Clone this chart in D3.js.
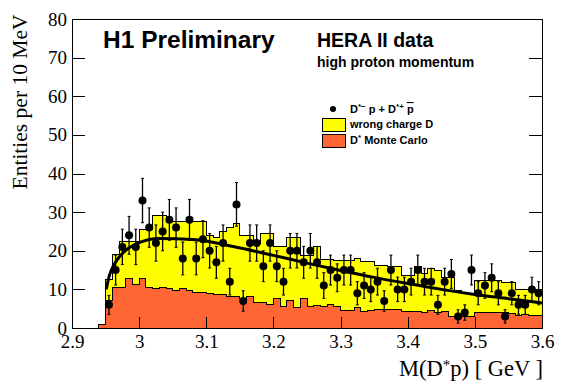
<!DOCTYPE html>
<html><head><meta charset="utf-8">
<script src="https://cdn.jsdelivr.net/npm/d3@7/dist/d3.min.js"></script>
<style>html,body{margin:0;padding:0;background:#fff;}svg{display:block;}</style>
</head><body>
<svg id="c" width="564" height="391"></svg>
<script>
// bin lower edges (GeV), 10 MeV bins from 2.94
const binStart = 2.94;
const binWidth = 0.01;
// wrong-charge D histogram (first bin = 2.94-2.95)
const wrongCharge = [0,
  12.6,19.0,22.5,22.5,22.5,25.5,25.5,29.0,29.0,27.5,
  27.5,27.5,28.5,27.5,27.5,24.0,23.5,25.0,26.0,27.0,
  24.0,24.0,22.0,24.5,24.5,21.0,21.0,23.5,23.5,18.8,
  18.8,21.0,17.7,17.7,17.5,17.5,17.5,18.0,17.1,17.1,
  16.2,16.2,16.0,16.0,13.5,13.5,15.8,14.1,15.4,14.9,
  13.2,13.2,9.8,8.9,8.9,12.4,12.4,12.4,12.4,11.9,
  11.7,10.0,10.0,10.0,9.5];
// D* Monte Carlo histogram
const monteCarlo = [0.9,
  7.0,10.6,10.6,12.8,11.2,12.8,10.5,10.3,10.5,10.2,
  9.6,10.2,9.8,9.3,9.3,9.0,8.8,8.6,8.2,8.2,
  7.6,8.2,6.7,6.7,6.1,7.6,5.6,7.2,5.4,7.6,
  5.6,5.8,5.6,6.0,5.6,4.6,4.6,5.4,4.2,4.6,
  4.8,4.8,4.8,4.8,4.2,4.2,4.4,4.0,4.5,4.0,
  4.2,2.9,2.9,2.9,2.9,4.1,4.1,4.1,4.0,4.0,
  3.8,3.3,3.5,3.3,3.3];
// data: D*- p + D*+ pbar, bins from 2.95
const dataStart = 2.95;
const dataCounts = [6,15,21,24,21,33,26,22,25,28,
  26,18,28,18,23,20,17,22,12,32,
  7,22,22,16,22,16,12,20,20,17,
  20,17,11,15,13,15,15,9,11,10,
  12,7,15,10,10,12,15,12,12,6,
  12,14,3,4,15,9,11,13,9,3,
  9,6,6,10,9];
// fit curve points
const fitMass = [2.951,2.955,2.962,2.970,2.980,3.000,3.030,3.080,3.140,3.200,3.250,3.300,3.350,3.400,3.450,3.500,3.550,3.600];
const fitValue = [10.0,13.2,16.2,18.3,20.1,22.1,23.2,22.9,21.1,18.8,16.8,14.9,13.1,11.5,10.0,8.7,7.6,6.5];
const xTickLabels = ["2.9","3","3.1","3.2","3.3","3.4","3.5","3.6"];
const yTickLabels = ["0","10","20","30","40","50","60","70","80"];

const svg = d3.select("#c");
const L=72, R=542, T=19, B=328;
const x = d3.scaleLinear().domain([2.9,3.6]).range([L,R]);
const y = d3.scaleLinear().domain([0,80]).range([B,T]);

function histPath(vals){
  let p = "M"+x(binStart)+","+y(0);
  vals.forEach((v,i)=>{
    const x0 = x(binStart+i*binWidth), x1 = x(binStart+(i+1)*binWidth);
    p += "L"+x0+","+y(v)+"L"+x1+","+y(v);
  });
  p += "L"+x(binStart+vals.length*binWidth)+","+y(0)+"Z";
  return p;
}
svg.append("path").attr("d",histPath(wrongCharge)).attr("fill","#ffff00").attr("stroke","#000").attr("stroke-width",1).attr("shape-rendering","crispEdges");
svg.append("path").attr("d",histPath(monteCarlo)).attr("fill","#ff6633").attr("stroke","#000").attr("stroke-width",1).attr("shape-rendering","crispEdges");

// data points
const pts = svg.append("g");
dataCounts.forEach((n,i)=>{
  const m = dataStart + (i+0.5)*binWidth;
  const e = Math.sqrt(n);
  const cx = x(m);
  pts.append("line").attr("x1",cx).attr("x2",cx).attr("y1",y(n-e)).attr("y2",y(n+e)).attr("stroke","#000").attr("stroke-width",1.3);
  pts.append("line").attr("x1",cx-1.5).attr("x2",cx+1.5).attr("y1",y(n-e)).attr("y2",y(n-e)).attr("stroke","#000").attr("stroke-width",1);
  pts.append("line").attr("x1",cx-1.5).attr("x2",cx+1.5).attr("y1",y(n+e)).attr("y2",y(n+e)).attr("stroke","#000").attr("stroke-width",1);
  pts.append("circle").attr("cx",cx).attr("cy",y(n)).attr("r",4).attr("fill","#000");
});

// fit
const fit = fitMass.map((m,i)=>[m,fitValue[i]]);
svg.append("path").attr("d",d3.line().x(d=>x(d[0])).y(d=>y(d[1])).curve(d3.curveMonotoneX)(fit))
  .attr("fill","none").attr("stroke","#000").attr("stroke-width",3);

// axes
const xMajor = d3.range(0,8).map(i=>2.9+i*0.1);
const xMinor = d3.range(0,36).map(i=>2.9+i*0.02);
const yMajor = d3.range(0,9).map(i=>i*10);
const yMinor = d3.range(0,41).map(i=>i*2);
const tickFont = "'Liberation Serif','Times New Roman',serif";

const gx = svg.append("g").attr("transform",`translate(0,${B})`);
gx.call(d3.axisBottom(x).tickValues(xMinor).tickSize(-5.5).tickFormat(""));
gx.call(d3.axisBottom(x).tickValues(xMajor).tickSize(-11).tickPadding(7).tickFormat((d,i)=>xTickLabels[i]));
gx.selectAll("text").attr("font-family",tickFont).attr("font-size",19).attr("fill","#000");

const gy = svg.append("g").attr("transform",`translate(${L},0)`);
gy.call(d3.axisLeft(y).tickValues(yMinor).tickSize(-7).tickFormat(""));
gy.call(d3.axisLeft(y).tickValues(yMajor).tickSize(-13).tickPadding(5).tickFormat((d,i)=>yTickLabels[i]));
gy.selectAll("text").attr("font-family",tickFont).attr("font-size",19).attr("fill","#000");

const gr = svg.append("g").attr("transform",`translate(${R},0)`);
gr.call(d3.axisRight(y).tickValues(yMinor).tickSize(-7).tickFormat(""));
gr.call(d3.axisRight(y).tickValues(yMajor).tickSize(-13).tickFormat(""));

svg.selectAll(".domain").remove();
svg.selectAll(".tick line").attr("stroke","#000").attr("shape-rendering","crispEdges");

svg.append("rect").attr("x",L).attr("y",T).attr("width",R-L).attr("height",B-T)
  .attr("fill","none").attr("stroke","#000").attr("stroke-width",1).attr("shape-rendering","crispEdges");

// axis titles
svg.append("text").attr("transform","translate(27,102) rotate(-90)").attr("text-anchor","middle")
  .attr("font-family",tickFont).attr("font-size",21.5).text("Entities per 10 MeV");
const xt = svg.append("text").attr("x",543).attr("y",376).attr("text-anchor","end")
  .attr("font-family",tickFont).attr("font-size",22.5);
xt.append("tspan").text("M(D");
xt.append("tspan").attr("font-size",15).attr("dy",-6).text("*");
xt.append("tspan").attr("dy",6).text("p) [ GeV ]");

// titles
const sans = "'Liberation Sans',Arial,Helvetica,sans-serif";
svg.append("text").attr("x",103).attr("y",48).attr("font-family",sans).attr("font-weight","bold").attr("font-size",24.5).text("H1 Preliminary");
svg.append("text").attr("x",317).attr("y",47).attr("font-family",sans).attr("font-weight","bold").attr("font-size",19.5).text("HERA II data");
svg.append("text").attr("x",317).attr("y",67).attr("font-family",sans).attr("font-weight","bold").attr("font-size",14).text("high proton momentum");

// legend
const lf = 11;
svg.append("circle").attr("cx",333).attr("cy",109).attr("r",3).attr("fill","#000");
const l1 = svg.append("text").attr("x",350).attr("y",113).attr("font-family",sans).attr("font-weight","bold").attr("font-size",lf);
l1.append("tspan").text("D");
l1.append("tspan").attr("font-size",8).attr("dy",-4).text("*−");
l1.append("tspan").attr("dy",4).text(" p + D");
l1.append("tspan").attr("font-size",8).attr("dy",-4).text("*+");
l1.append("tspan").attr("dy",4).text(" ");
l1.append("tspan").attr("text-decoration","overline").text("p");
svg.append("rect").attr("x",322).attr("y",118).attr("width",23).attr("height",13).attr("fill","#ffff00").attr("stroke","#000").attr("shape-rendering","crispEdges");
svg.append("text").attr("x",350).attr("y",128).attr("font-family",sans).attr("font-weight","bold").attr("font-size",lf).text("wrong charge D");
svg.append("rect").attr("x",322).attr("y",134).attr("width",23).attr("height",13).attr("fill","#ff6633").attr("stroke","#000").attr("shape-rendering","crispEdges");
const l3 = svg.append("text").attr("x",350).attr("y",144).attr("font-family",sans).attr("font-weight","bold").attr("font-size",lf);
l3.append("tspan").text("D");
l3.append("tspan").attr("font-size",8).attr("dy",-4).text("*");
l3.append("tspan").attr("dy",4).text(" Monte Carlo");
</script>
</body></html>
